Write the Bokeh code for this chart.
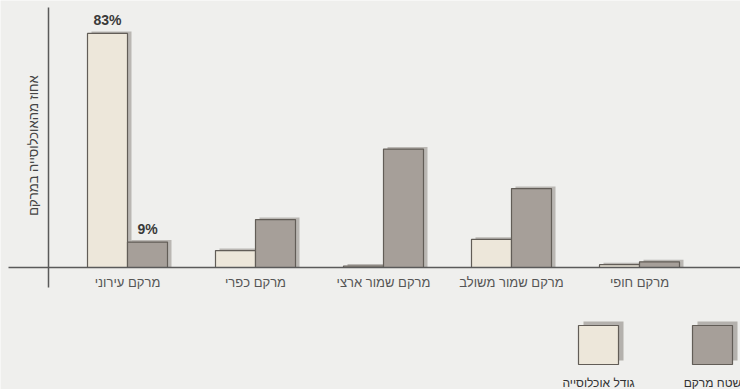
from math import pi

from bokeh.core.properties import value
from bokeh.embed import file_html
from bokeh.models import ColumnDataSource, Range1d
from bokeh.plotting import figure
from bokeh.resources import INLINE

# Share of population and share of area per built-up texture type (%)
categories = ["מרקם עירוני", "מרקם כפרי", "מרקם שמור ארצי", "מרקם שמור משולב", "מרקם חופי"]
population_share = [83, 6, 0.5, 10, 1]
area_share = [9, 17, 42, 28, 2]
labelled_category = "מרקם עירוני"

series_names = ["גודל אוכלוסייה", "שטח מרקם"]
y_title = "אחוז מהאוכלוסייה במרקם"

# ---- layout (pixels) ----
W, H = 740, 389
BASE_PX = 267          # baseline row
PX_PER_PCT = 2.82      # vertical scale
C0_PX, STEP_PX = 127, 128  # first group centre and group spacing
BAR_PX = 40

FONT = value("Liberation Sans")
POP_FILL, AREA_FILL = "#ede7da", "#a69f99"
EDGE = "#625d57"
SHADOW = "#7a746d"
BG = "#efefed"


def px_x(px):
    return (px - C0_PX) / STEP_PX


def px_y(py):
    return (BASE_PX - py) / PX_PER_PCT


p = figure(
    width=W, height=H,
    x_range=Range1d(px_x(0), px_x(W)),
    y_range=Range1d(px_y(H), px_y(0)),
    x_axis_type=None, y_axis_type=None,
    toolbar_location=None, output_backend="svg",
    min_border=0, outline_line_color=None,
    background_fill_color=BG, border_fill_color=BG,
)

bw = BAR_PX / STEP_PX
dx_sh = 4 / STEP_PX
dy_sh = 2 / PX_PER_PCT
idx = list(range(len(categories)))

src = ColumnDataSource(dict(
    idx=idx,
    pop_x=[i - bw / 2 for i in idx],
    area_x=[i + bw / 2 for i in idx],
    pop=population_share,
    area=area_share,
    pop_sh_x=[i - bw / 2 + dx_sh for i in idx],
    area_sh_x=[i + bw / 2 + dx_sh for i in idx],
    pop_sh=[v + dy_sh for v in population_share],
    area_sh=[v + dy_sh for v in area_share],
    name=categories,
))

# soft drop shadows behind the bars
p.vbar(x="pop_sh_x", top="pop_sh", width=bw, bottom=0, source=src,
       fill_color=SHADOW, fill_alpha=0.45, line_color=None)
p.vbar(x="area_sh_x", top="area_sh", width=bw, bottom=0, source=src,
       fill_color=SHADOW, fill_alpha=0.45, line_color=None)

# bars
p.vbar(x="pop_x", top="pop", width=bw, bottom=0, source=src,
       fill_color=POP_FILL, line_color=EDGE, line_width=1.2)
p.vbar(x="area_x", top="area", width=bw, bottom=0, source=src,
       fill_color=AREA_FILL, line_color=EDGE, line_width=1.2)

# value labels on the urban pair
k = categories.index(labelled_category)
gap = 5 / PX_PER_PCT
p.text(x=[k - bw / 2, k + bw / 2],
       y=[population_share[k] + gap, area_share[k] + gap],
       text=[f"{population_share[k]:g}%", f"{area_share[k]:g}%"],
       text_font=FONT, text_font_size="14px", text_font_style="bold",
       text_color="#3a3a3a", text_align="center", text_baseline="bottom")

# axis lines
p.segment(x0=[px_x(8)], y0=[0], x1=[px_x(W)], y1=[0],
          line_color="#5a5a5a", line_width=1.5)
p.segment(x0=[px_x(48)], y0=[px_y(7)], x1=[px_x(48)], y1=[px_y(287)],
          line_color="#5a5a5a", line_width=1.5)

# category labels
p.text(x="idx", y=px_y(282), text="name", source=src,
       text_font=FONT, text_font_size="13px", text_color="#555555",
       text_align="center", text_baseline="middle")

# y-axis title
p.text(x=[px_x(33)], y=[px_y(145)], text=[y_title], angle=pi / 2,
       text_font=FONT, text_font_size="13px", text_color="#444444",
       text_align="center", text_baseline="middle")

# legend: swatch with shadow, name underneath
for (left, fill, label) in [(578, POP_FILL, series_names[0]),
                            (692, AREA_FILL, series_names[1])]:
    top, bottom = 325, 364
    p.quad(left=[px_x(left + 5)], right=[px_x(left + 45)],
           top=[px_y(top - 4)], bottom=[px_y(bottom - 4)],
           fill_color=SHADOW, fill_alpha=0.5, line_color=None)
    p.quad(left=[px_x(left)], right=[px_x(left + 40)],
           top=[px_y(top)], bottom=[px_y(bottom)],
           fill_color=fill, line_color=EDGE, line_width=1.2)
    p.text(x=[px_x(left + 20)], y=[px_y(382)], text=[label],
           text_font=FONT, text_font_size="12px", text_color="#333333",
           text_align="center", text_baseline="middle")

open("out.html", "w").write(file_html(p, INLINE))
